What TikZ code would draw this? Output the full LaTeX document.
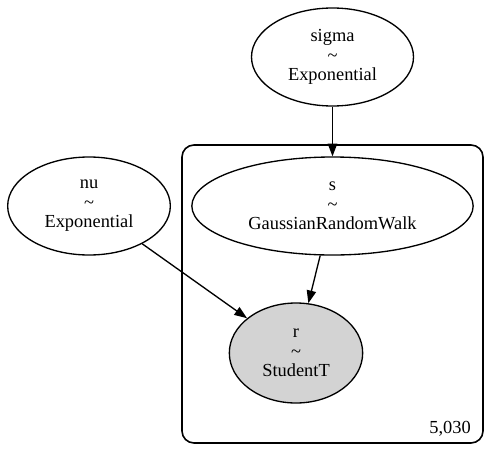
\documentclass[tikz,border=0pt]{standalone}
\usepackage{fontspec}
\setmainfont{Liberation Serif}
\usetikzlibrary{shapes.geometric,arrows.meta}

\begin{document}
\begin{tikzpicture}[x=.75pt,y=-.75pt,
    rv/.style={draw,ellipse,inner sep=0pt,align=center,line width=1pt,
      font=\fontsize{13.8}{14.6}\selectfont},
    edge/.style={-{Triangle[length=9.5pt,width=7pt]},line width=1pt}]
   \useasboundingbox (0,0) rectangle (502,464);
   % plate
   \draw[line width=1.2pt,rounded corners=9pt] (182,145) rectangle (483,443);
   \node (size) at (450,429) [font=\fontsize{13.8}{14.6}\selectfont] {5,030};
   % sigma
   \node (sigma) at (332.5,57) [rv,minimum width=121.5pt,minimum height=73.5pt]
     {sigma\\\textasciitilde\\Exponential};
   % nu
   \node (nu) at (89,206) [rv,minimum width=122pt,minimum height=73.5pt]
     {nu\\\textasciitilde\\Exponential};
   % s
   \node (s) at (332.5,206) [rv,minimum width=211pt,minimum height=73.5pt]
     {s\\\textasciitilde\\GaussianRandomWalk};
   % r
   \node (r) at (296,353) [rv,fill={rgb,255:red,211;green,211;blue,211},
     minimum width=100pt,minimum height=75pt]
     {r\\\textasciitilde\\StudentT};
   \draw[edge] (sigma) -- (s);
   \draw[edge] (nu) -- (r);
   \draw[edge] (s) -- (r);
\end{tikzpicture}
\end{document}
